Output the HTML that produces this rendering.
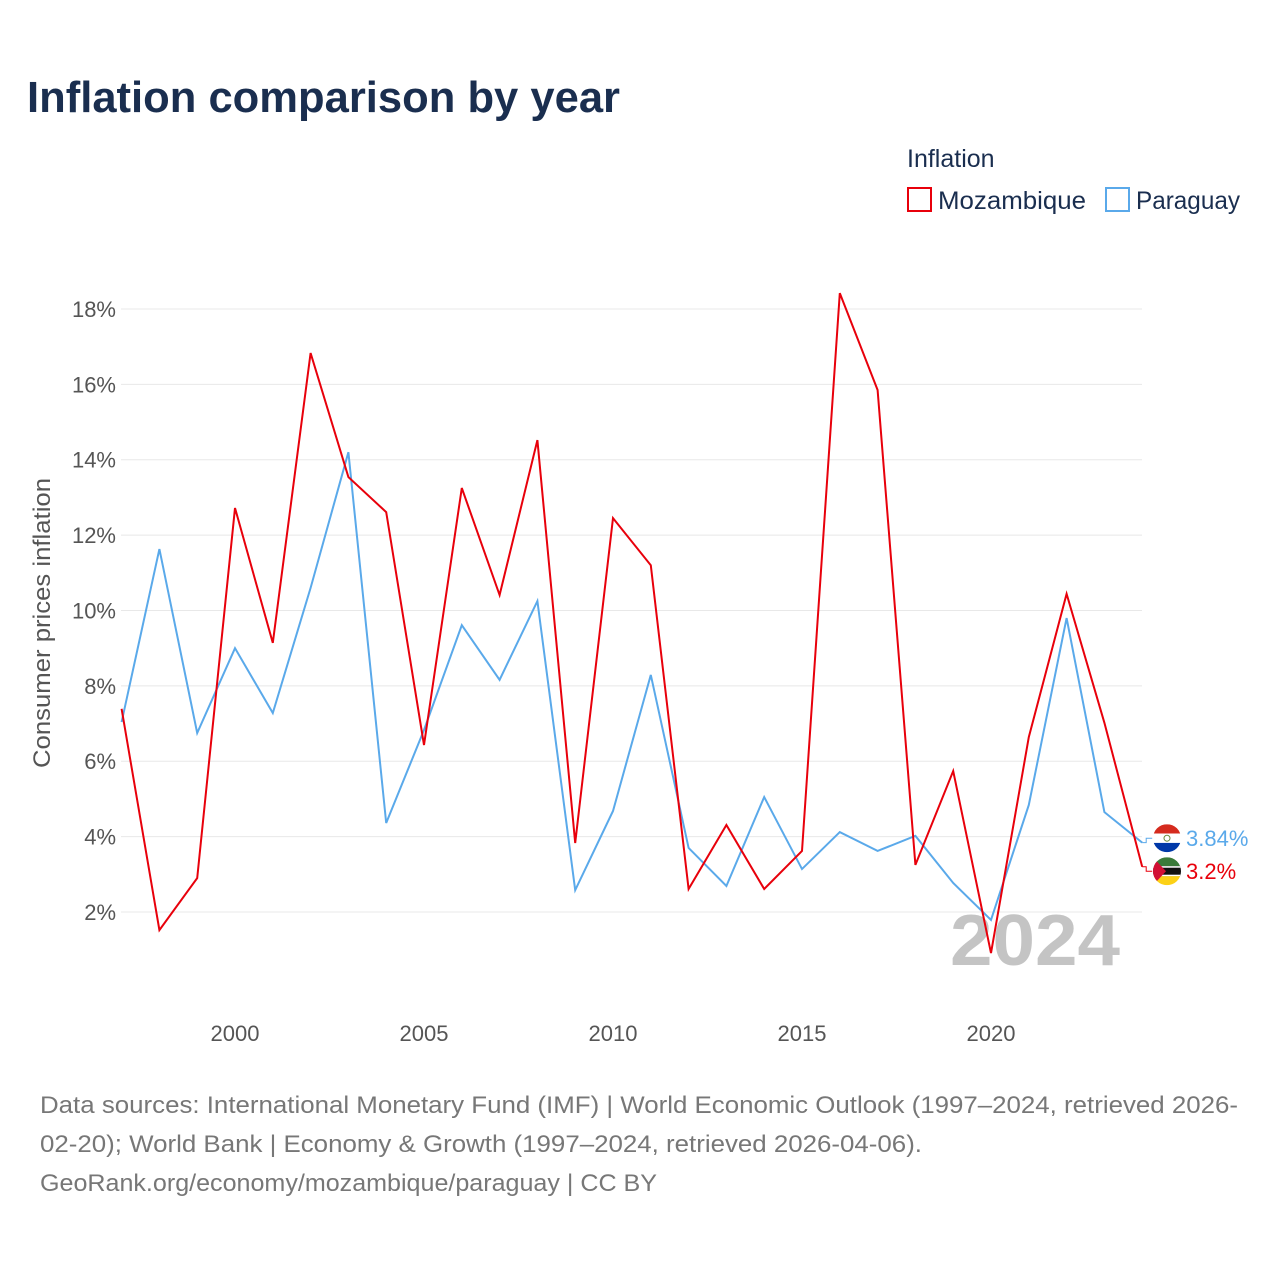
<!DOCTYPE html>
<html><head><meta charset="utf-8"><style>
html,body{margin:0;padding:0;background:#fff;width:1280px;height:1280px;overflow:hidden}
text{font-family:"Liberation Sans",sans-serif}
</style></head><body>
<svg id="chart" width="1280" height="1280" viewBox="0 0 1280 1280" xmlns="http://www.w3.org/2000/svg">
<defs>
<clipPath id="clipP"><circle id="cP" cx="1167" cy="837" r="14"/></clipPath>
<clipPath id="clipM"><circle id="cM" cx="1167" cy="870" r="14"/></clipPath>
</defs>
<text x="27" y="112" font-size="44" font-weight="bold" fill="#1a2e4f" textLength="593" lengthAdjust="spacingAndGlyphs">Inflation comparison by year</text>
<text x="907" y="167" font-size="25" fill="#1a2e4f">Inflation</text>
<g><rect x="908" y="188" width="23" height="23" fill="none" stroke="#e8000b" stroke-width="2"/><text x="938" y="209" font-size="25" fill="#1a2e4f" textLength="148" lengthAdjust="spacingAndGlyphs">Mozambique</text></g>
<g><rect x="1106" y="188" width="23" height="23" fill="none" stroke="#5aa9ea" stroke-width="2"/><text x="1136" y="209" font-size="25" fill="#1a2e4f" textLength="104" lengthAdjust="spacingAndGlyphs">Paraguay</text></g>
<g id="grid"></g>
<g id="yticks"></g>
<g id="xticks"></g>
<text transform="translate(50,623) rotate(-90)" text-anchor="middle" font-size="24" fill="#555" textLength="290" lengthAdjust="spacingAndGlyphs">Consumer prices inflation</text>
<text x="1120" y="965" text-anchor="end" font-size="72" font-weight="bold" fill="#c4c4c4" textLength="170" lengthAdjust="spacingAndGlyphs">2024</text>
<g id="series"></g>
<g font-size="24" fill="#777">
<text x="40" y="1113" textLength="1198" lengthAdjust="spacingAndGlyphs">Data sources: International Monetary Fund (IMF) | World Economic Outlook (1997–2024, retrieved 2026-</text>
<text x="40" y="1152" textLength="882" lengthAdjust="spacingAndGlyphs">02-20); World Bank | Economy &amp; Growth (1997–2024, retrieved 2026-04-06).</text>
<text x="40" y="1191" textLength="617" lengthAdjust="spacingAndGlyphs">GeoRank.org/economy/mozambique/paraguay | CC BY</text>
</g>
</svg>
<script>
const years=[1997,1998,1999,2000,2001,2002,2003,2004,2005,2006,2007,2008,2009,2010,2011,2012,2013,2014,2015,2016,2017,2018,2019,2020,2021,2022,2023,2024];
const mozambique=[7.39,1.52,2.9,12.72,9.14,16.83,13.54,12.61,6.43,13.25,10.41,14.52,3.83,12.45,11.2,2.61,4.31,2.61,3.62,18.42,15.85,3.25,5.74,0.91,6.64,10.44,7.02,3.2];
const paraguay=[7.04,11.63,6.75,9.0,7.28,10.6,14.2,4.36,6.83,9.61,8.16,10.25,2.58,4.68,8.29,3.7,2.69,5.05,3.14,4.12,3.62,4.02,2.77,1.79,4.84,9.8,4.65,3.84];
const yTicks=[2,4,6,8,10,12,14,16,18];
const xTicks=[2000,2005,2010,2015,2020];
const NS='http://www.w3.org/2000/svg';
const x=v=>121.6+(v-1997)*37.8;
const y=v=>912-(v-2)*37.69;
function mk(tag,attrs,parent){const e=document.createElementNS(NS,tag);for(const k in attrs)e.setAttribute(k,attrs[k]);parent.appendChild(e);return e;}
const grid=document.getElementById('grid'),yt=document.getElementById('yticks'),xt=document.getElementById('xticks'),ser=document.getElementById('series');
yTicks.forEach(t=>{
 const l=mk('line',{x1:121,x2:1142,y1:y(t),y2:y(t),stroke:'#e8e8e8','stroke-width':1},grid);
 
 
 const tx=mk('text',{x:116,y:y(t)+8,'text-anchor':'end','font-size':22,fill:'#555'},yt);
 tx.textContent=t+'%';
 
 
});
xTicks.forEach(t=>{
 const tx=mk('text',{x:x(t),y:1041,'text-anchor':'middle','font-size':22,fill:'#555'},xt);
 tx.textContent=t;
 
 
});
function line(vals,color,name){
 const p=mk('polyline',{points:vals.map((v,i)=>x(years[i])+','+y(v)).join(' '),fill:'none',stroke:color,'stroke-width':2,'stroke-linejoin':'miter'},ser);
 
 
}
line(paraguay,'#5aa9ea','line-paraguay');
line(mozambique,'#e8000b','line-mozambique');
const lastP=paraguay[paraguay.length-1],lastM=mozambique[mozambique.length-1];
let yP=y(lastP),yM=y(lastM);
if(yM-yP<33){const mid=(yP+yM)/2;yP=mid-16.5;yM=mid+16.5;}
document.getElementById('cP').setAttribute('cy',yP);
document.getElementById('cM').setAttribute('cy',yM);
function endLabel(val,ly,color,name,flag){
 const xe=x(years[years.length-1]);
 const c=mk('polyline',{points:xe+','+y(val)+' '+(xe+4)+','+y(val)+' '+(xe+4)+','+ly+' '+(xe+10)+','+ly,fill:'none',stroke:color,'stroke-width':1},ser);
 
 
 const g=mk('g',{'clip-path':flag==='py'?'url(#clipP)':'url(#clipM)'},ser);
 
 
 const cx=1167;
 if(flag==='py'){
  mk('rect',{x:cx-14,y:ly-14,width:28,height:9.3,fill:'#d52b1e'},g);
  mk('rect',{x:cx-14,y:ly-4.7,width:28,height:9.4,fill:'#fff'},g);
  mk('rect',{x:cx-14,y:ly+4.7,width:28,height:9.3,fill:'#0038a8'},g);
  mk('circle',{cx:cx,cy:ly,r:3,fill:'none',stroke:'#6a8a3a','stroke-width':1},g);
 }else{
  mk('rect',{x:cx-14,y:ly-14,width:28,height:9,fill:'#3a7a3a'},g);
  mk('rect',{x:cx-14,y:ly-5,width:28,height:10,fill:'#111'},g);
  mk('rect',{x:cx-14,y:ly-5,width:28,height:1.5,fill:'#fff'},g);
  mk('rect',{x:cx-14,y:ly+3.5,width:28,height:1.5,fill:'#fff'},g);
  mk('rect',{x:cx-14,y:ly+5,width:28,height:9,fill:'#fcd116'},g);
  mk('polygon',{points:(cx-14)+','+(ly-14)+' '+(cx-1)+','+ly+' '+(cx-14)+','+(ly+14),fill:'#d21034'},g);
 }
 const t=mk('text',{x:1186,y:ly+8,'font-size':22,fill:color},ser);
 t.textContent=String(val)+'%';
 
 
}
endLabel(lastP,yP,'#5aa9ea','end-label-paraguay','py');
endLabel(lastM,yM,'#e8000b','end-label-mozambique','mz');
</script>
</body></html>
